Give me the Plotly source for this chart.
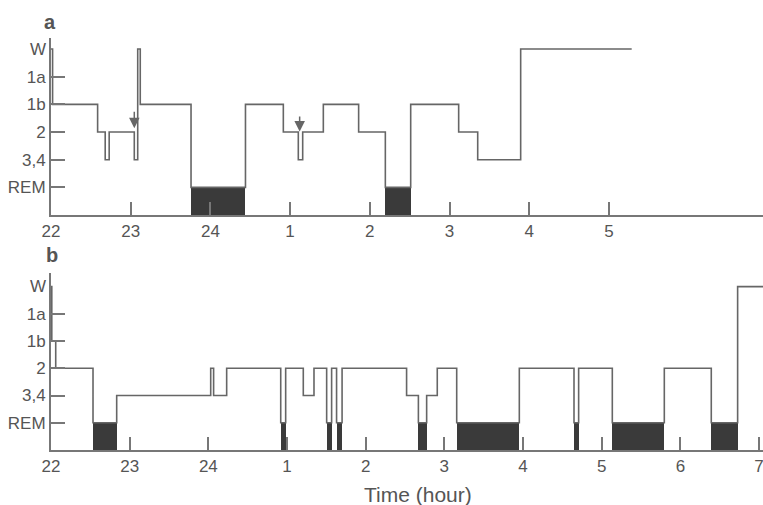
import plotly.graph_objects as go

# ---------------- data ----------------
stage_levels = {"REM": 1, "3,4": 2, "2": 3, "1b": 4, "1a": 5, "W": 6}
ytick_labels = ["REM", "3,4", "2", "1b", "1a"]
ytick_vals = [1, 2, 3, 4, 5]

# panel a : time (h, continuous from 22) of each stage change, and stage entered
times_a = [22.0, 22.02, 22.585, 22.68, 22.73, 23.045, 23.088, 23.12, 23.757, 24.44,
           24.915, 25.103, 25.158, 25.417, 25.86, 26.195, 26.513, 27.115, 27.354,
           27.893, 29.286]
stages_a = ["W", "1b", "2", "3,4", "2", "3,4", "W", "1b", "REM", "1b",
            "2", "3,4", "2", "1b", "2", "REM", "1b", "2", "3,4",
            "W", "W"]

# panel b
times_b = [22.0, 22.01, 22.06, 22.534, 22.835, 24.03, 24.067, 24.233, 24.92, 24.983,
           25.207, 25.343, 25.504, 25.567, 25.63, 25.70, 26.52, 26.67, 26.775, 26.91,
           27.157, 27.953, 28.648, 28.707, 29.135, 29.796, 30.393, 30.728, 31.4]
stages_b = ["W", "1b", "2", "REM", "3,4", "2", "3,4", "2", "REM", "2",
            "3,4", "2", "REM", "2", "REM", "2", "3,4", "REM", "3,4", "2",
            "REM", "2", "REM", "2", "REM", "2", "REM", "W", "W"]

# arrows in panel a (time, tail level, tip level)
arrow_times = [23.045, 25.12]
arrow_tails = [3.79, 3.62]
arrow_tips = [3.14, 3.02]

xtick_vals_a = [22, 23, 24, 25, 26, 27, 28, 29]
xtick_text_a = ["22", "23", "24", "1", "2", "3", "4", "5"]
xtick_vals_b = [22, 23, 24, 25, 26, 27, 28, 29, 30, 31]
xtick_text_b = ["22", "23", "24", "1", "2", "3", "4", "5", "6", "7"]

# ---------------- styling ----------------
LINE = "#666666"
AXIS = "#777777"
TEXT = "#555555"
REMFILL = "#3a3a3a"
FONT = "Liberation Sans, Arial, sans-serif"

fig = go.Figure()


def add_panel(times, stages, xa, ya):
    levels = [stage_levels[s] for s in stages]
    # REM blocks (filled)
    for i, s in enumerate(stages[:-1]):
        if s == "REM":
            t0, t1 = times[i], times[i + 1]
            fig.add_trace(go.Bar(x=[(t0 + t1) / 2], y=[stage_levels["REM"]], width=[t1 - t0],
                                 base=0, marker=dict(color=REMFILL, line=dict(width=0)),
                                 xaxis=xa, yaxis=ya, showlegend=False, hoverinfo="skip"))
    fig.add_trace(go.Scatter(x=times, y=levels, mode="lines", line=dict(shape="hv", color=LINE, width=1.6),
                             xaxis=xa, yaxis=ya, showlegend=False, hoverinfo="skip"))


add_panel(times_a, stages_a, "x", "y")
add_panel(times_b, stages_b, "x2", "y2")

axis_common = dict(showline=True, linecolor=AXIS, linewidth=2, showgrid=False, zeroline=False,
                   ticks="inside", tickcolor=AXIS, tickwidth=1.5, automargin=False,
                   ticklabeloverflow="allow",
                   tickfont=dict(family=FONT, size=17, color=TEXT))

fig.update_layout(
    width=763, height=505,
    margin=dict(l=51, r=0, t=0, b=0),
    paper_bgcolor="white", plot_bgcolor="white",
    barmode="overlay", bargap=0,
    xaxis=dict(domain=[0, 1], anchor="y", range=[22, 22 + 712 / 79.7],
               tickvals=xtick_vals_a, ticktext=xtick_text_a, ticklen=13, **axis_common),
    yaxis=dict(domain=[1 - 215 / 505, 1 - 38 / 505], anchor="x", range=[0, 6.4],
               tickvals=ytick_vals, ticktext=ytick_labels, ticklen=14, **axis_common),
    xaxis2=dict(domain=[0, 1], anchor="y2", range=[22, 22 + 712 / 78.67],
                tickvals=xtick_vals_b, ticktext=xtick_text_b, ticklen=13, **axis_common),
    yaxis2=dict(domain=[1 - 450 / 505, 1 - 273 / 505], anchor="x2", range=[0, 6.5],
                tickvals=ytick_vals, ticktext=ytick_labels, ticklen=14, **axis_common),
)

annotations = []
for yref in ["y", "y2"]:
    annotations.append(dict(text="W", xref="paper", x=0, xanchor="right", xshift=-3,
                            yref=yref, y=stage_levels["W"], yanchor="middle", showarrow=False,
                            font=dict(family=FONT, size=17, color=TEXT)))
for t, tail, tip in zip(arrow_times, arrow_tails, arrow_tips):
    annotations.append(dict(x=t, y=tip, ax=t, ay=tail, xref="x", yref="y", axref="x", ayref="y",
                            showarrow=True, arrowhead=2, arrowsize=1.4, arrowwidth=1.5,
                            arrowcolor=LINE, text=""))
annotations.append(dict(text="<b>a</b>", xref="paper", yref="paper", x=-1 / 712, y=1 - 22 / 505,
                        xanchor="center", yanchor="middle", showarrow=False,
                        font=dict(family=FONT, size=20, color=TEXT)))
annotations.append(dict(text="<b>b</b>", xref="paper", yref="paper", x=1 / 712, y=1 - 255 / 505,
                        xanchor="center", yanchor="middle", showarrow=False,
                        font=dict(family=FONT, size=20, color=TEXT)))
annotations.append(dict(text="Time (hour)", xref="paper", yref="paper", x=(418 - 51) / 712, y=1 - 494 / 505,
                        xanchor="center", yanchor="middle", showarrow=False,
                        font=dict(family=FONT, size=21, color=TEXT)))
fig.update_layout(annotations=annotations)

fig.write_html("out.html",
               config={"displayModeBar": False},
               post_script="document.body.style.margin='0';document.body.style.padding='0';"
                           "document.body.style.overflow='hidden';")
